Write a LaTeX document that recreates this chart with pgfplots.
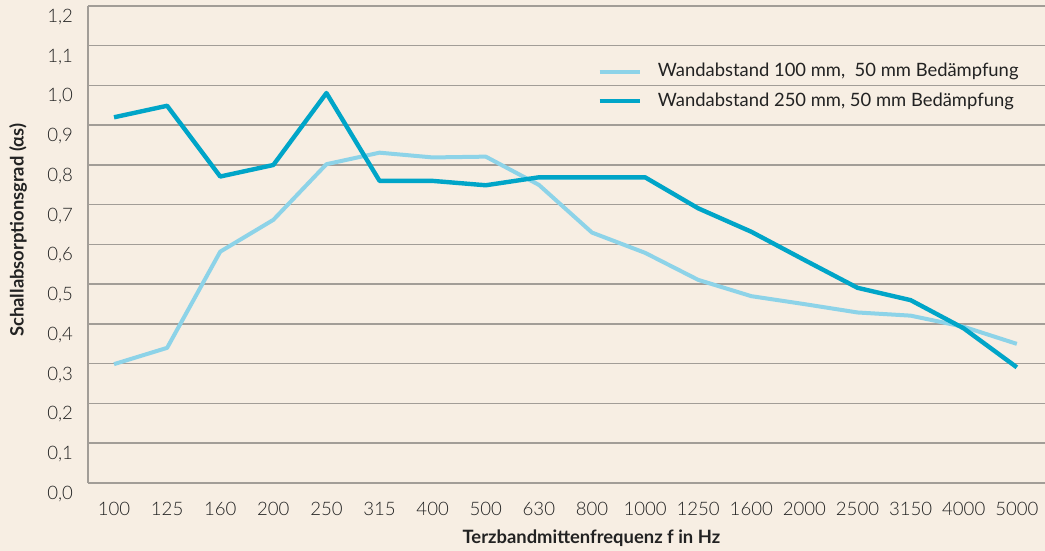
\documentclass[border=0pt]{standalone}
\usepackage{pgfplots}
\pgfplotsset{compat=1.18}
\usepackage{fontspec}
\setmainfont{Lato}
\newfontfamily\lightfont{Lato Light}
\definecolor{bg}{HTML}{F7EEE3}
\definecolor{lightc}{HTML}{8DD3E8}
\definecolor{darkc}{HTML}{00A5C8}
\definecolor{gridc}{HTML}{A29D97}
\definecolor{txt}{HTML}{222222}
\begin{document}
\begin{tikzpicture}
\fill[bg] (-44pt,-34pt) rectangle (478.5pt,241.5pt);
\begin{axis}[
  at={(0,0)}, anchor=south west,
  scale only axis, width=478.5pt, height=238.5pt,
  xmin=-0.49, xmax=17.53, ymin=0, ymax=1.2,
  axis line style={draw=none},
  xtick={0,...,17},
  xticklabels={100,125,160,200,250,315,400,500,630,800,1000,1250,1600,2000,2500,3150,4000,5000},
  ytick={0,0.1,...,1.21},
  yticklabel={\pgfmathprintnumber[fixed,fixed zerofill,precision=1,use comma]{\tick}},
  /pgf/number format/assume math mode=true,
  ymajorgrids, grid style={gridc, line width=0.75pt},
  major tick length=0pt,
  ticklabel style={font=\lightfont\fontsize{9.3}{10}\selectfont, text=txt},
  xticklabel style={yshift=-6pt},
  yticklabel style={xshift=-4pt, yshift=-5.5pt},
  xlabel={\textbf{Terzbandmittenfrequenz f in Hz}},
  ylabel={\textbf{Schallabsorptionsgrad (αs)}},
  label style={font=\fontsize{9.2}{10}\selectfont, text=txt},
  xlabel style={at={(axis description cs:0.526,0)}, anchor=center, yshift=-27.5pt},
  ylabel style={at={(axis description cs:0,0.53)}, anchor=center, yshift=35pt},
  legend style={at={(axis description cs:0.532,0.885)}, anchor=north west, draw=none, fill=none,
    font=\fontsize{9.2}{11}\selectfont, text=txt, row sep=4.5pt, inner sep=0pt,
    nodes={inner sep=1pt}},
  legend cell align=left,
  legend image code/.code={\draw[#1] (0pt,0pt) -- (20pt,0pt);},
  clip=false,
]
\draw[gridc, line width=0.75pt] (axis description cs:0,0) -- (axis description cs:0,1);
\addplot[lightc, line width=2pt, line join=round] coordinates {
(0,0.299) (1,0.340) (2,0.582) (3,0.662) (4,0.802) (5,0.831) (6,0.819) (7,0.821) (8,0.750)
(9,0.630) (10,0.579) (11,0.511) (12,0.470) (13,0.450) (14,0.429) (15,0.421) (16,0.393) (17,0.350)};
\addlegendentry{\hspace{7pt}Wandabstand 100 mm,\ \ 50 mm Bedämpfung}
\addplot[darkc, line width=2.2pt, line join=round] coordinates {
(0,0.920) (1,0.949) (2,0.771) (3,0.800) (4,0.981) (5,0.760) (6,0.760) (7,0.749) (8,0.769)
(9,0.769) (10,0.769) (11,0.691) (12,0.632) (13,0.561) (14,0.491) (15,0.460) (16,0.389) (17,0.291)};
\addlegendentry{\hspace{7pt}Wandabstand 250 mm, 50 mm Bedämpfung}
\end{axis}
\pgfresetboundingbox
\path[use as bounding box] (-44pt,-34pt) rectangle (478.5pt,241.5pt);
\end{tikzpicture}
\end{document}
